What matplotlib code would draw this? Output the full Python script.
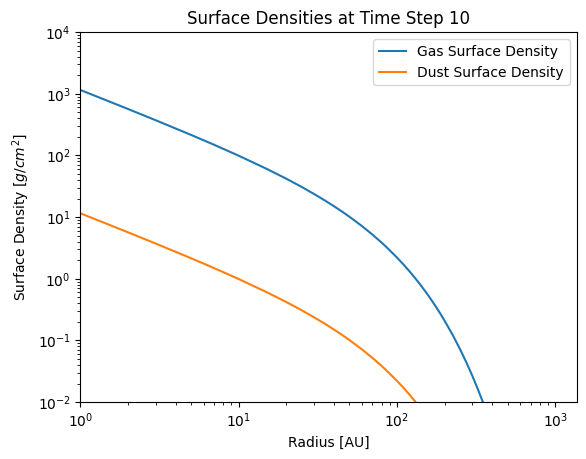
import matplotlib
matplotlib.use("Agg")
import matplotlib.pyplot as plt
import numpy as np

# values
radius = [1, 1.5, 2, 3, 5, 7, 10, 15, 20, 25, 30, 35, 40, 45, 50, 60, 70, 80, 85,
          100, 110, 120, 130, 140, 150, 160, 175, 190, 200, 225, 250, 275, 300,
          325, 350, 375, 400, 500]
gas_sigma = [1151, 760.7, 565.8, 371.0, 215.3, 148.7, 99.0, 60.7, 41.9, 30.85,
             23.6, 18.65, 15.0, 12.28, 10.17, 7.174, 5.20, 3.855, 3.338, 2.21,
             1.701, 1.319, 1.03, 0.8104, 0.640, 0.5081, 0.3618, 0.2596, 0.208,
             0.1223, 0.0725, 0.04348, 0.0263, 0.01599, 0.0098, 0.00602, 0.0037,
             0.00056]
dust_sigma = [11.51, 7.607, 5.658, 3.710, 2.153, 1.487, 0.990, 0.607, 0.419,
              0.3085, 0.236, 0.1865, 0.150, 0.1228, 0.1017, 0.07174, 0.0520,
              0.03855, 0.03338, 0.0221, 0.01701, 0.01319, 0.0103, 0.008104,
              0.00640, 0.005081, 0.003618, 0.002596, 0.00208, 0.001223,
              0.000725, 0.0004348, 0.000263, 0.0001599, 0.000098, 0.0000602,
              0.000037, 0.0000056]

fig = plt.figure(figsize=(5.86, 4.59), dpi=100)
ax = fig.add_axes([0.1373, 0.124, 0.8467, 0.806])

ax.loglog(radius, gas_sigma, label="Gas Surface Density")
ax.loglog(radius, dust_sigma, label="Dust Surface Density")
ax.set_xlim(1, 1365)
ax.set_ylim(1e-2, 1e4)
ax.set_xlabel("Radius [AU]")
ax.set_ylabel("Surface Density [$g/cm^2$]")
ax.set_title("Surface Densities at Time Step 10")
ax.legend()

fig.savefig("out.png", dpi=100)
